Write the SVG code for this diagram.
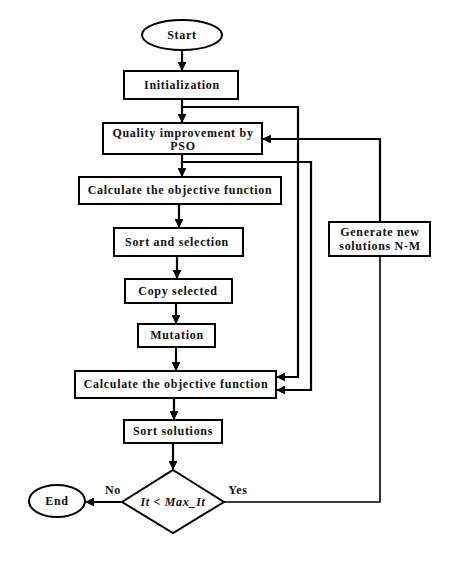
<svg xmlns="http://www.w3.org/2000/svg" width="474" height="564" viewBox="0 0 474 564">
<style>
.box{fill:#fff;stroke:#000;stroke-width:2}
.t{font-family:"Liberation Serif","Times New Roman",serif;font-weight:bold;font-size:12px;letter-spacing:0.7px;fill:#111;text-anchor:middle}
.c{fill:none;stroke:#000;stroke-width:2.2}
.thin{fill:none;stroke:#000;stroke-width:1.6}
</style>
<defs>
<marker id="ah" markerWidth="4" markerHeight="4" refX="3.6" refY="2" orient="auto" markerUnits="strokeWidth">
<path d="M0,0 L4,2 L0,4 Z" fill="#000"/>
</marker>
</defs>
<rect width="474" height="564" fill="#fff"/>
<g id="connectors">
<path class="c" d="M182,50 V70" marker-end="url(#ah)"/>
<path class="c" d="M182,99 V122" marker-end="url(#ah)"/>
<path class="c" d="M182,107 H298 V377 H277" marker-end="url(#ah)"/>
<path class="c" d="M182,154 V176" marker-end="url(#ah)"/>
<path class="c" d="M182,162 H311 V390 H277" marker-end="url(#ah)"/>
<path class="c" d="M179,204 V227" marker-end="url(#ah)"/>
<path class="c" d="M177,256 V278" marker-end="url(#ah)"/>
<path class="c" d="M176,303 V323" marker-end="url(#ah)"/>
<path class="c" d="M176,347 V370" marker-end="url(#ah)"/>
<path class="c" d="M174,398 V419" marker-end="url(#ah)"/>
<path class="c" d="M173,443 V469" marker-end="url(#ah)"/>
<path class="c" d="M122,502 H86" marker-end="url(#ah)"/>
<path class="thin" d="M224,502 H380 V256"/>
<path class="c" d="M380,222 V139 H263" marker-end="url(#ah)"/>
</g>
<g id="start">
<ellipse class="box" cx="182" cy="35" rx="40" ry="15"/>
<text class="t" x="182" y="39">Start</text>
</g>
<g id="init">
<rect class="box" x="124" y="71" width="114" height="28"/>
<text class="t" x="182" y="89">Initialization</text>
</g>
<g id="pso">
<rect class="box" x="103" y="123" width="159" height="31"/>
<text class="t" x="183" y="137">Quality improvement by</text>
<text class="t" x="183" y="150">PSO</text>
</g>
<g id="calc1">
<rect class="box" x="79" y="177" width="202" height="27"/>
<text class="t" x="180" y="194">Calculate the objective function</text>
</g>
<g id="sortsel">
<rect class="box" x="114" y="228" width="129" height="28"/>
<text class="t" x="177" y="246">Sort and selection</text>
</g>
<g id="copy">
<rect class="box" x="125" y="279" width="107" height="24"/>
<text class="t" x="178" y="295">Copy selected</text>
</g>
<g id="mutation">
<rect class="box" x="138" y="324" width="77" height="23"/>
<text class="t" x="177" y="339">Mutation</text>
</g>
<g id="calc2">
<rect class="box" x="75" y="371" width="201" height="27"/>
<text class="t" x="176" y="388">Calculate the objective function</text>
</g>
<g id="sortsol">
<rect class="box" x="124" y="420" width="98" height="23"/>
<text class="t" x="173" y="435">Sort solutions</text>
</g>
<g id="decision">
<path class="box" d="M173,470 L224,502 L173,533 L122,502 Z"/>
<text class="t" x="173" y="506" font-style="italic">It &lt; Max_It</text>
</g>
<g id="end">
<ellipse class="box" cx="57" cy="501" rx="28" ry="16"/>
<text class="t" x="57" y="505">End</text>
</g>
<g id="generate">
<rect class="box" x="329" y="222" width="101" height="34"/>
<text class="t" x="380" y="236">Generate new</text>
<text class="t" x="380" y="250">solutions N-M</text>
</g>
<g id="labels">
<text class="t" x="113" y="494">No</text>
<text class="t" x="238" y="494">Yes</text>
</g>
</svg>
